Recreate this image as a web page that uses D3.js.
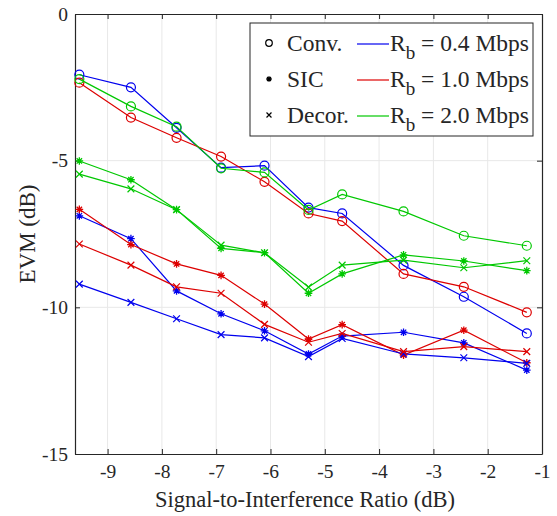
<!DOCTYPE html>
<html>
<head>
<meta charset="utf-8">
<script src="https://cdn.jsdelivr.net/npm/d3@7"></script>
<style>
  body { margin: 0; background: #fff; }
</style>
</head>
<body>
<svg id="chart" width="557" height="516"></svg>
<script>
// SIR values (dB), shared by every curve
var sirValues = [-9.52, -8.57, -7.73, -6.91, -6.11, -5.30, -4.68, -3.55, -2.44, -1.28];

// EVM (dB) for Rb = 0.4 Mbps
var convRb04  = [-2.07, -2.50, -3.88, -5.24, -5.17, -6.60, -6.80, -8.57, -9.64, -10.89];
var sicRb04   = [-6.88, -7.66, -9.44, -10.22, -10.80, -11.59, -10.98, -10.85, -11.21, -12.14];
var decorRb04 = [-9.21, -9.83, -10.39, -10.93, -11.04, -11.68, -11.06, -11.59, -11.72, -11.91];

// EVM (dB) for Rb = 1.0 Mbps
var convRb10  = [-2.34, -3.53, -4.22, -4.86, -5.72, -6.80, -7.06, -8.86, -9.30, -10.17];
var sicRb10   = [-6.66, -7.86, -8.52, -8.91, -9.89, -11.08, -10.59, -11.63, -10.78, -11.89];
var decorRb10 = [-7.84, -8.56, -9.30, -9.52, -10.58, -11.19, -10.89, -11.51, -11.34, -11.51];

// EVM (dB) for Rb = 2.0 Mbps
var convRb20  = [-2.22, -3.15, -3.84, -5.26, -5.40, -6.68, -6.15, -6.73, -7.56, -7.90];
var sicRb20   = [-5.01, -5.65, -6.67, -7.99, -8.14, -9.52, -8.86, -8.21, -8.42, -8.75];
var decorRb20 = [-5.46, -5.96, -6.67, -7.88, -8.14, -9.31, -8.56, -8.39, -8.65, -8.41];

var xTicks = [-9, -8, -7, -6, -5, -4, -3, -2, -1];
var yTicks = [0, -5, -10, -15];

var methodNames = ["Conv.", "SIC", "Decor."];
var rateNames = ["0.4", "1.0", "2.0"];
var rateColors = ["#0000ee", "#dd0000", "#00c800"];

var series = [
  {values: convRb04, marker: "circle", color: 0},
  {values: convRb10, marker: "circle", color: 1},
  {values: convRb20, marker: "circle", color: 2},
  {values: sicRb04, marker: "star", color: 0},
  {values: sicRb10, marker: "star", color: 1},
  {values: sicRb20, marker: "star", color: 2},
  {values: decorRb04, marker: "cross", color: 0},
  {values: decorRb10, marker: "cross", color: 1},
  {values: decorRb20, marker: "cross", color: 2}
];

var serif = "Liberation Serif";
var ink = "#262626";

var svg = d3.select("#chart");
// plot box (don't call it "top", that's window.top)
var box = {left: 75, right: 542, top: 14, bottom: 454};

var xScale = d3.scaleLinear().domain([-9.6, -1]).range([box.left, box.right]);
var yScale = d3.scaleLinear().domain([-15, 0]).range([box.bottom, box.top]);

// grid lines
var grid = svg.append("g");
grid.selectAll(".gx").data(xTicks.slice(0, -1)).enter().append("line")
  .attr("x1", function (d) { return xScale(d); })
  .attr("x2", function (d) { return xScale(d); })
  .attr("y1", box.top).attr("y2", box.bottom)
  .attr("stroke", "#e8e8e8").attr("stroke-width", 1);
grid.selectAll(".gy").data([-5, -10]).enter().append("line")
  .attr("y1", function (d) { return yScale(d); })
  .attr("y2", function (d) { return yScale(d); })
  .attr("x1", box.left).attr("x2", box.right)
  .attr("stroke", "#e8e8e8").attr("stroke-width", 1);

// axes (ticks pointing inward, box all round)
var fmt = function (d) { return String(d); };
var xAxis = d3.axisBottom(xScale).tickValues(xTicks).tickSizeInner(-5).tickSizeOuter(0)
  .tickPadding(10).tickFormat(fmt);
var yAxis = d3.axisLeft(yScale).tickValues(yTicks).tickSizeInner(-5).tickSizeOuter(0)
  .tickPadding(7).tickFormat(fmt);

function styleAxis(g) {
  g.attr("font-family", serif).attr("font-size", 19.5);
  g.select(".domain").attr("stroke", ink).attr("stroke-width", 1.2);
  g.selectAll(".tick line").attr("stroke", ink);
  g.selectAll(".tick text").attr("fill", ink);
}

svg.append("g").attr("transform", "translate(0," + box.bottom + ")").call(xAxis).call(styleAxis);
svg.append("g").attr("transform", "translate(" + box.left + ",0)").call(yAxis).call(styleAxis);
svg.append("g").attr("transform", "translate(0," + box.top + ")")
  .call(d3.axisTop(xScale).tickValues(xTicks).tickSizeInner(-5).tickSizeOuter(0).tickFormat(""))
  .call(styleAxis);
svg.append("g").attr("transform", "translate(" + box.right + ",0)")
  .call(d3.axisRight(yScale).tickValues(yTicks).tickSizeInner(-5).tickSizeOuter(0).tickFormat(""))
  .call(styleAxis);

// marker drawing
function drawMarker(g, type, color, size) {
  if (type === "circle") {
    g.append("circle").attr("r", size).attr("fill", "none")
      .attr("stroke", color).attr("stroke-width", 1.2);
  } else if (type === "cross") {
    var s = size * 0.75;
    g.append("path").attr("d", "M" + (-s) + "," + (-s) + "L" + s + "," + s + "M" + (-s) + "," + s + "L" + s + "," + (-s))
      .attr("stroke", color).attr("stroke-width", 1.2).attr("fill", "none");
  } else {
    var s2 = size * 0.85;
    var d = "M0," + (-s2) + "L0," + s2 + "M" + (-s2) + ",0L" + s2 + ",0";
    var k = s2 * 0.7;
    d += "M" + (-k) + "," + (-k) + "L" + k + "," + k + "M" + (-k) + "," + k + "L" + k + "," + (-k);
    g.append("path").attr("d", d).attr("stroke", color).attr("stroke-width", 1.3).attr("fill", "none");
  }
}

var line = d3.line()
  .x(function (d, i) { return xScale(sirValues[i]); })
  .y(function (d) { return yScale(d); });

var plot = svg.append("g");
series.forEach(function (s) {
  var color = rateColors[s.color];
  plot.append("path").datum(s.values)
    .attr("d", line).attr("fill", "none")
    .attr("stroke", color).attr("stroke-width", 1.2);
  s.values.forEach(function (v, i) {
    var m = plot.append("g").attr("transform", "translate(" + xScale(sirValues[i]) + "," + yScale(v) + ")");
    drawMarker(m, s.marker, color, 4.5);
  });
});

// axis labels
svg.append("text").attr("x", 305).attr("y", 507)
  .attr("text-anchor", "middle").attr("font-size", 22.5).attr("font-family", serif).attr("fill", ink)
  .text("Signal-to-Interference Ratio (dB)");
svg.append("text").attr("transform", "translate(35," + yScale(-7.5) + ") rotate(-90)")
  .attr("text-anchor", "middle").attr("font-size", 23).attr("font-family", serif).attr("fill", ink)
  .text("EVM (dB)");

// legend
var legend = svg.append("g").attr("font-family", serif).attr("fill", ink);
legend.append("rect").attr("x", 250).attr("y", 23).attr("width", 283).attr("height", 113)
  .attr("fill", "#fff").attr("stroke", ink).attr("stroke-width", 1);

methodNames.forEach(function (name, i) {
  var cy = 43 + i * 36;
  var m = legend.append("g").attr("transform", "translate(269," + cy + ")");
  drawMarker(m, ["circle", "star", "cross"][i], "#000", 3.3);
  legend.append("text").attr("x", 287).attr("y", cy + 8).attr("font-size", 23.5).text(name);
  legend.append("line").attr("x1", 357).attr("x2", 389).attr("y1", cy + 1).attr("y2", cy + 1)
    .attr("stroke", rateColors[i]).attr("stroke-width", 1.2);
  var t = legend.append("text").attr("x", 390).attr("y", cy + 8).attr("font-size", 23.5);
  t.append("tspan").text("R");
  t.append("tspan").attr("dy", 8).attr("font-size", 19).text("b");
  t.append("tspan").attr("dy", -8).text(" = " + rateNames[i] + " Mbps");
});
</script>
</body>
</html>
